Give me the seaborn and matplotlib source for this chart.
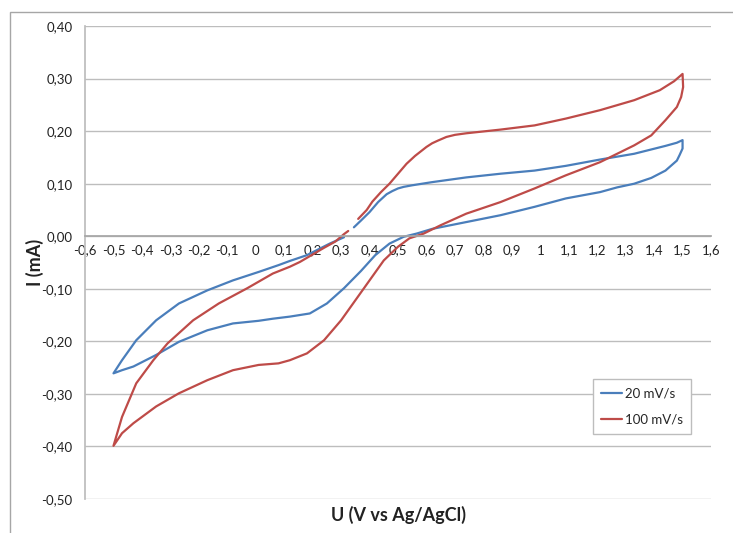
import numpy as np
import pandas as pd
import seaborn as sns
import matplotlib.pyplot as plt
from matplotlib.ticker import FuncFormatter, FixedLocator
from matplotlib.patches import Rectangle

sns.set_theme(style="white")
plt.rcParams['font.family'] = ['Lato', 'DejaVu Sans']

# 20 mV/s cycle: forward scan to 1.5 V, back to -0.5 V, forward again
u_20 = [0.345, 0.37, 0.40, 0.43, 0.46, 0.48, 0.50, 0.52, 0.55, 0.62, 0.74, 0.86, 0.98, 1.09, 1.21, 1.33, 1.44,
        1.48, 1.50,
        1.50, 1.49, 1.48, 1.44, 1.39, 1.33, 1.27, 1.21, 1.09, 0.98, 0.86, 0.74, 0.62, 0.565, 0.52, 0.47, 0.42,
        0.37, 0.31, 0.25, 0.19, 0.12, 0.06, 0.01, -0.08, -0.17, -0.27, -0.35, -0.43, -0.47, -0.50,
        -0.47, -0.42, -0.35, -0.27, -0.17, -0.08, 0.01, 0.08, 0.12, 0.18, 0.26, 0.31]
i_20 = [0.017, 0.030, 0.046, 0.065, 0.080, 0.086, 0.091, 0.094, 0.097, 0.103, 0.112, 0.119, 0.125, 0.134, 0.146,
        0.157, 0.172, 0.178, 0.183,
        0.167, 0.155, 0.144, 0.125, 0.111, 0.100, 0.093, 0.084, 0.072, 0.056, 0.040, 0.027, 0.014, 0.005, -0.001,
        -0.014, -0.036, -0.066, -0.099, -0.128, -0.147, -0.153, -0.157, -0.161, -0.166, -0.179, -0.201, -0.226,
        -0.248, -0.255, -0.261,
        -0.236, -0.198, -0.160, -0.128, -0.103, -0.084, -0.068, -0.055, -0.047, -0.036, -0.014, -0.002]

# 100 mV/s cycle
u_100 = [0.36, 0.39, 0.41, 0.44, 0.47, 0.50, 0.53, 0.56, 0.60, 0.62, 0.64, 0.67, 0.70, 0.74, 0.86, 0.98, 1.09,
         1.21, 1.33, 1.42, 1.47, 1.50,
         1.502, 1.495, 1.48, 1.44, 1.39, 1.33, 1.21, 1.09, 0.98, 0.86, 0.74, 0.65, 0.59, 0.54, 0.50, 0.45, 0.40,
         0.35, 0.30, 0.24, 0.18, 0.12, 0.08, 0.01, -0.08, -0.17, -0.27, -0.35, -0.43, -0.47, -0.50,
         -0.47, -0.42, -0.36, -0.31, -0.22, -0.13, -0.03, 0.06, 0.12, 0.155, 0.24, 0.28, 0.31, 0.325]
i_100 = [0.033, 0.050, 0.066, 0.084, 0.100, 0.119, 0.138, 0.153, 0.170, 0.177, 0.182, 0.189, 0.193, 0.196, 0.203,
         0.211, 0.224, 0.240, 0.259, 0.278, 0.295, 0.309,
         0.284, 0.265, 0.246, 0.221, 0.192, 0.173, 0.141, 0.116, 0.091, 0.065, 0.043, 0.021, 0.005, -0.004, -0.020,
         -0.046, -0.084, -0.122, -0.160, -0.198, -0.223, -0.236, -0.242, -0.245, -0.255, -0.274, -0.299, -0.324,
         -0.356, -0.375, -0.399,
         -0.344, -0.280, -0.236, -0.204, -0.160, -0.128, -0.099, -0.071, -0.058, -0.049, -0.022, -0.010, 0.004,
         0.010]

labels = ['20 mV/s', '100 mV/s']
colors = {'20 mV/s': '#4a7ebb', '100 mV/s': '#be4b48'}

df = pd.DataFrame({
    'U': u_20 + u_100,
    'I': i_20 + i_100,
    'rate': [labels[0]] * len(u_20) + [labels[1]] * len(u_100),
})

fig = plt.figure(figsize=(7.33, 5.33), dpi=100)
ax = fig.add_axes([0.116, 0.064, 0.854, 0.887])

sns.lineplot(data=df, x='U', y='I', hue='rate', palette=colors, sort=False,
             estimator=None, linewidth=1.6, ax=ax)

ax.set_xlim(-0.6, 1.6)
ax.set_ylim(-0.5, 0.4)
ax.xaxis.set_major_locator(FixedLocator(np.arange(-6, 17) / 10))
ax.yaxis.set_major_locator(FixedLocator(np.arange(-5, 5) / 10))


def fmt_x(v, pos):
    v = round(v, 1)
    if v == 0:
        return '0'
    return f'{v:g}'.replace('.', ',')


def fmt_y(v, pos):
    v = round(v, 2)
    if v == 0:
        return '0,00'
    return f'{v:.2f}'.replace('.', ',')


ax.xaxis.set_major_formatter(FuncFormatter(fmt_x))
ax.yaxis.set_major_formatter(FuncFormatter(fmt_y))

grid_c = '#bdbdbd'
ax.grid(axis='y', color=grid_c, linewidth=1.0)
ax.grid(axis='x', visible=False)
ax.set_axisbelow(True)
for s in ['top', 'right']:
    ax.spines[s].set_visible(False)
ax.spines['left'].set_color(grid_c)
ax.spines['bottom'].set_color('#a6a6a6')
ax.spines['bottom'].set_position(('data', 0))
ax.tick_params(axis='x', length=0, pad=6, labelsize=9.5, colors='#222222')
ax.tick_params(axis='y', length=0, pad=9, labelsize=9.5, colors='#222222')

ax.set_xlabel('U (V vs Ag/AgCl)', fontsize=13, fontweight='bold', color='#222222')
ax.xaxis.set_label_coords(0.5, -0.015)
ax.set_ylabel('I (mA)', fontsize=13, fontweight='bold', color='#222222')
ax.yaxis.set_label_coords(-0.066, 0.5)

ax.legend(title='', loc='lower right', bbox_to_anchor=(0.978, 0.124), fontsize=9.5,
          frameon=True, fancybox=False, edgecolor='#bdbdbd', framealpha=1,
          handlelength=1.6, handletextpad=0.2, borderpad=0.6, labelspacing=1.1)

# outer chart frame (only left and top edges are inside the picture)
fig.patches.append(Rectangle((10 / 733, -0.05), 1.2, 1 - 11.5 / 533 + 0.05,
                             transform=fig.transFigure, fill=False,
                             edgecolor='#a6a6a6', linewidth=1.0))

plt.savefig('out.png', dpi=100)
